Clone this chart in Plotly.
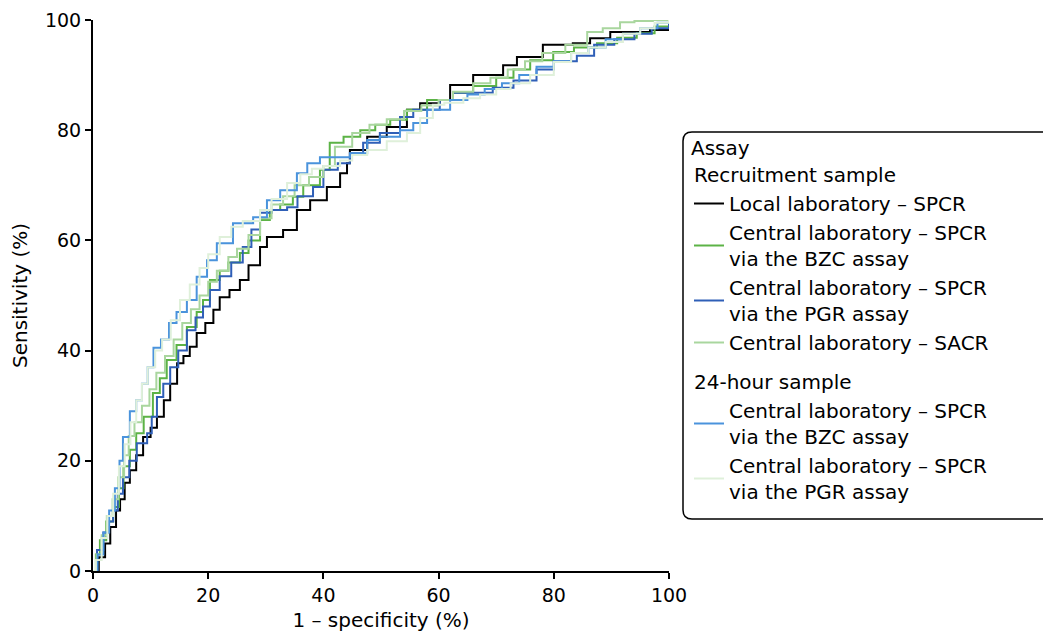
import plotly.graph_objects as go

# ---- data (1 - specificity %, sensitivity %) ----
local_spcr_x = [0, 1.0, 2.1, 3.0, 4.0, 4.7, 5.5, 6.4, 7.5, 8.7, 10.0, 11.1, 12.3, 13.4, 14.6, 15.7, 16.8, 18.0, 19.5, 20.9, 22.0, 23.7, 25.5, 27.0, 29.0, 30.2, 33.0, 35.4, 37.7, 40.6, 42.9, 44.1, 44.6, 47.6, 51.0, 54.5, 56.8, 60.2, 62.0, 66.0, 71.2, 73.6, 78.1, 83.3, 86.3, 89.8, 96.7, 100]
local_spcr_y = [0, 2.5, 5, 8, 11, 13, 16, 18.3, 21, 24.3, 26, 28, 31, 34, 37.7, 39, 40.7, 43.2, 45, 47.4, 49.7, 51, 52.8, 55.5, 58.8, 60.6, 61.9, 65.5, 67.3, 69.7, 72.2, 74, 76.4, 78.8, 80.6, 83.7, 84.9, 85.5, 88.2, 90, 91.8, 93.3, 95.5, 95.8, 96.7, 97.8, 98.2, 99.5]

central_bzc_x = [0, 0.5, 1.2, 2.3, 3.5, 4.5, 5.3, 6.4, 7.5, 8.8, 10.4, 11.6, 12.8, 14.5, 16.3, 18.0, 19.1, 20.3, 22.0, 23.5, 25.5, 27.0, 29.0, 30.7, 32.5, 34.7, 36.5, 39.4, 41.1, 43.5, 46.4, 49.0, 51.6, 54.5, 58.0, 62.5, 66.0, 70.0, 73.0, 75.9, 79.9, 83.5, 87.5, 91.0, 94.4, 97.5, 100]
central_bzc_y = [0, 3, 5.6, 9, 11.6, 15, 19, 22, 25, 28, 32.3, 35, 38.3, 41, 44.3, 47, 49.2, 52.8, 54.5, 56, 57.7, 60, 63.7, 65.5, 66.5, 67.9, 70, 72.8, 77.7, 78.8, 80, 81, 81.9, 83.7, 85.5, 86.8, 88, 89.5, 91, 92.7, 94.2, 95, 95.8, 96.8, 97.6, 98.8, 100]

central_pgr_x = [0, 0.7, 1.8, 2.6, 3.5, 4.3, 5.2, 6.3, 7.6, 9.4, 10.2, 11.1, 12.2, 13.4, 14.8, 16.3, 17.8, 19.1, 20.3, 22.0, 24.0, 26.0, 27.5, 29.0, 31.0, 33.7, 35.5, 38.2, 40.0, 42.5, 44.6, 46.9, 49.8, 53.3, 55.6, 60.2, 62.5, 66.0, 69.4, 73.0, 77.0, 80.0, 84.0, 87.0, 90.5, 94.0, 97.0, 100]
central_pgr_y = [0, 3.8, 7, 9, 11, 14, 17, 20, 23.2, 25, 28, 31.6, 34, 37, 40, 43.7, 46, 48, 51, 53.5, 56, 58.8, 62, 65, 65.5, 66, 68, 69.7, 72.8, 74, 75.8, 77.7, 79.5, 82.4, 83.7, 85.5, 86.8, 86.8, 87.7, 89, 91, 92.5, 93.5, 95.5, 96.5, 97.5, 98.5, 100]

central_sacr_x = [0, 0.6, 1.5, 2.4, 3.4, 4.4, 5.4, 6.2, 7.2, 8.5, 9.8, 11.0, 12.5, 14.0, 15.5, 17.0, 18.5, 20.0, 21.5, 23.5, 25.0, 27.0, 29.0, 31.0, 33.0, 35.0, 37.5, 40.0, 42.0, 45.0, 48.0, 51.0, 54.0, 57.0, 60.0, 62.5, 66.0, 69.0, 72.0, 75.0, 78.0, 82.0, 85.8, 88.5, 91.5, 94.0, 97.2, 100]
central_sacr_y = [0, 3, 6.5, 10, 13, 17, 21, 24.5, 27, 30, 33, 36, 39, 42, 45, 47.5, 50, 52.5, 54.5, 57, 58.5, 61, 64, 66.5, 68, 70, 71.5, 73.5, 77, 79.5, 81, 82, 83.5, 84.5, 85.5, 87, 88.5, 89.5, 91, 92.5, 94, 95.5, 97.8, 98.5, 99.6, 99.8, 100, 100]

h24_bzc_x = [0, 0.8, 1.8, 2.8, 3.8, 4.6, 5.2, 6.4, 7.5, 8.5, 9.5, 10.5, 11.8, 13.2, 14.5, 16.3, 18.0, 19.8, 21.5, 24.3, 27.8, 30.2, 32.5, 35.4, 37.2, 39.4, 44.6, 47.6, 49.8, 53.3, 55.6, 58.0, 62.0, 65.0, 68.0, 71.0, 74.0, 77.0, 80.0, 83.0, 86.0, 89.0, 92.0, 95.0, 98.0, 100]
h24_bzc_y = [0, 3, 7, 11, 15, 20, 24.3, 29, 31, 34, 37, 40.5, 42, 45, 47, 49.2, 53.4, 56.4, 59.5, 63.1, 64.2, 67.3, 69.1, 72.2, 74, 75.1, 75.8, 78.2, 78.8, 80, 81.3, 83.7, 85.5, 86.5, 87.5, 88.5, 90, 91.5, 92.5, 94, 95, 96.5, 97.5, 98.5, 99.5, 100]

h24_pgr_x = [0, 0.5, 1.5, 2.5, 3.5, 4.5, 5.5, 6.5, 7.5, 8.5, 9.5, 10.8, 12.0, 13.5, 15.1, 16.8, 18.5, 20.0, 22.0, 24.0, 26.0, 29.0, 31.0, 33.7, 36.0, 38.0, 40.0, 42.9, 45.0, 47.6, 51.0, 54.5, 56.8, 59.0, 61.0, 64.3, 67.2, 70.0, 72.5, 75.9, 80.0, 83.0, 86.0, 89.0, 92.0, 95.0, 97.5, 100]
h24_pgr_y = [0, 2, 6, 10, 14, 19, 23, 27, 31, 34, 37, 40, 42, 45.5, 49.2, 52, 55, 57.5, 60.6, 62.5, 63.5, 65.5, 67.5, 70.4, 72, 73, 73.5, 74.5, 75.5, 76.4, 78, 79.5, 82.2, 84.6, 85, 85.8, 86.5, 87.5, 88.5, 90, 92.4, 94, 95, 96, 97.5, 98.5, 99.5, 100]

series_names = [
    "Local laboratory – SPCR",
    "Central laboratory – SPCR<br>via the BZC assay",
    "Central laboratory – SPCR<br>via the PGR assay",
    "Central laboratory – SACR",
    "Central laboratory – SPCR<br>via the BZC assay",
    "Central laboratory – SPCR<br>via the PGR assay",
]
series_groups = ["rec", "rec", "rec", "rec", "h24", "h24"]
group_titles = {"rec": "Recruitment sample", "h24": "24-hour sample"}
series_colors = ["#000000", "#5cb346", "#2f5fb7", "#a9d69e", "#4a93dc", "#dff0da"]
series_x = [local_spcr_x, central_bzc_x, central_pgr_x, central_sacr_x, h24_bzc_x, h24_pgr_x]
series_y = [local_spcr_y, central_bzc_y, central_pgr_y, central_sacr_y, h24_bzc_y, h24_pgr_y]

x_ticks = [0, 20, 40, 60, 80, 100]
y_ticks = [0, 20, 40, 60, 80, 100]

FONT = "DejaVu Sans"
LEG_SIZE = 20
TICK_SIZE = 19
TITLE_SIZE = 20

fig = go.Figure()
seen = set()
for name, grp, col, xs, ys in zip(series_names, series_groups, series_colors, series_x, series_y):
    tr = dict(x=xs, y=ys, mode="lines", name=name, line=dict(color=col, width=2, shape="hv"),
              legendgroup=grp, hoverinfo="skip")
    if grp not in seen:
        tr["legendgrouptitle"] = dict(text=group_titles[grp], font=dict(size=LEG_SIZE, color="#000", family=FONT))
        seen.add(grp)
    fig.add_trace(go.Scatter(**tr))

# rounded legend frame (right side runs off the canvas as in the reference)
W, H = 1043, 642
ml, mr, mt, mb = 93, 374, 20, 71
pw, ph = W - ml - mr, H - mt - mb
def px2x(p): return (p - ml) / pw
def py2y(p): return (H - mb - p) / ph
x0, x2 = px2x(683), px2x(1070)
yt, yb = py2y(132), py2y(519)
rx, ry = 9 / pw, 9 / ph
path = (f"M {x0+rx},{yt} L {x2},{yt} L {x2},{yb} L {x0+rx},{yb} "
        f"Q {x0},{yb} {x0},{yb+ry} L {x0},{yt-ry} Q {x0},{yt} {x0+rx},{yt} Z")
fig.add_shape(type="path", path=path, xref="paper", yref="paper",
              line=dict(color="#000", width=1.5), fillcolor="rgba(0,0,0,0)", layer="above")

fig.update_layout(
    width=W, height=H,
    margin=dict(l=ml, r=mr, t=mt, b=mb, autoexpand=False),
    paper_bgcolor="white", plot_bgcolor="white",
    font=dict(family=FONT, size=TICK_SIZE, color="#000"),
    showlegend=True,
    legend=dict(
        x=px2x(689), y=py2y(129), xanchor="left", yanchor="top",
        title=dict(text="Assay", font=dict(size=LEG_SIZE, family=FONT)),
        font=dict(size=LEG_SIZE, family=FONT, color="#000"),
        bgcolor="rgba(0,0,0,0)", borderwidth=0,
        tracegroupgap=10, itemwidth=30,
    ),
    xaxis=dict(range=[0, 100], tickvals=x_ticks, ticktext=[str(v) for v in x_ticks],
               showgrid=False, zeroline=False, showline=True, linecolor="#000", linewidth=2,
               ticks="outside", ticklen=6, tickwidth=2, tickcolor="#000", automargin=False,
               title=dict(text="1 – specificity (%)", font=dict(size=TITLE_SIZE), standoff=8),
               tickfont=dict(size=TICK_SIZE)),
    yaxis=dict(range=[0, 100], tickvals=y_ticks, ticktext=[str(v) for v in y_ticks],
               showgrid=False, zeroline=False, showline=True, linecolor="#000", linewidth=2,
               ticks="outside", ticklen=6, tickwidth=2, tickcolor="#000", automargin=False,
               title=dict(text="Sensitivity (%)", font=dict(size=TITLE_SIZE), standoff=12),
               tickfont=dict(size=TICK_SIZE)),
)

fig.write_html("out.html", config={"displayModeBar": False},
               post_script="document.body.style.margin='0';")
